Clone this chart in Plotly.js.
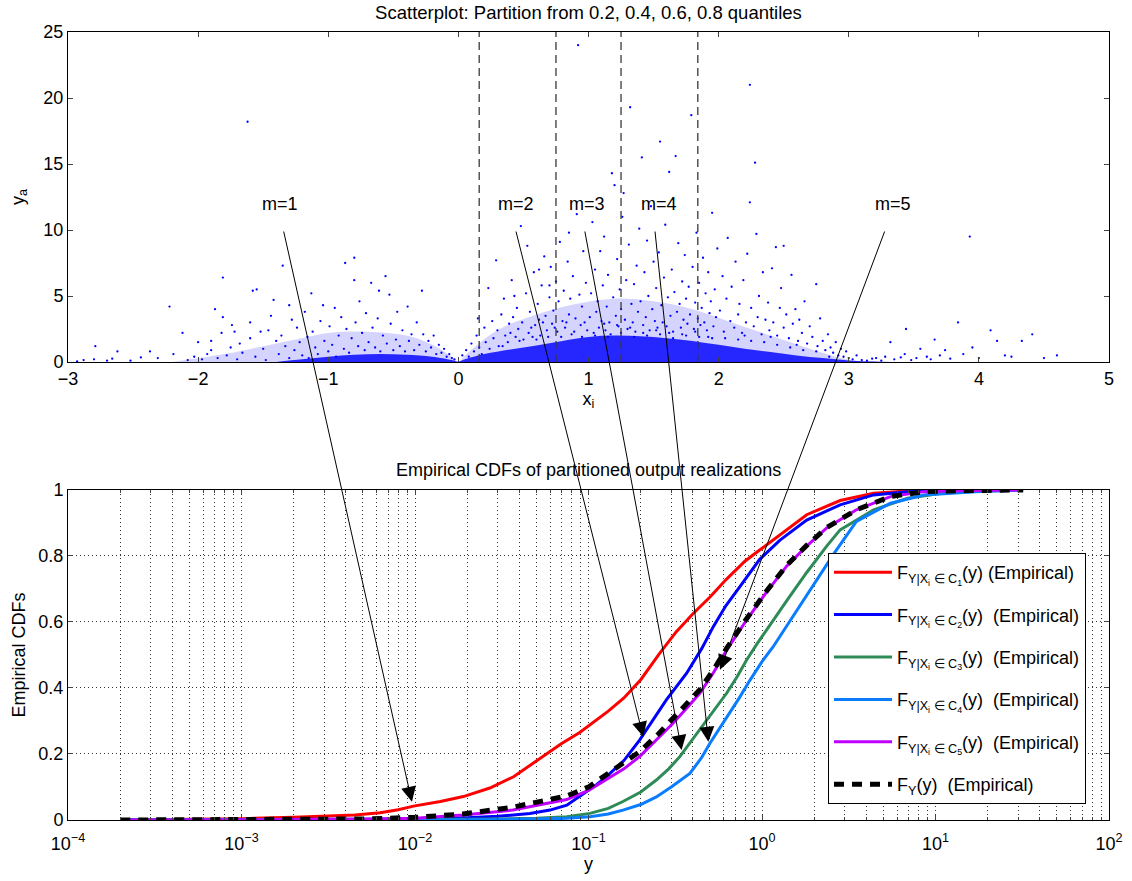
<!DOCTYPE html>
<html>
<head>
<meta charset="utf-8">
<script src="https://cdn.plot.ly/plotly-3.0.1.min.js"></script>
<style>html,body{margin:0;padding:0;background:#fff;}</style>
</head>
<body>
<div id="chart" style="width:1132px;height:881px;"></div>
<script>
// ---------------- DATA ----------------
// Quantile partition boundaries of x_i (0.2, 0.4, 0.6, 0.8)
const quantileX = [0.16, 0.75, 1.25, 1.84];

// Dense core of the scatter (upper envelope of the solid blue band)
const denseX   = [-1.4, -1.2, -1.0, -0.8, -0.6, -0.4, -0.2, -0.05, 0, 0.05, 0.2, 0.4, 0.6, 0.8, 1.0, 1.2, 1.4, 1.6, 1.8, 2.0, 2.2, 2.4, 2.6, 2.8, 3.0, 3.2, 3.4];
const denseTop = [0, 0.2, 0.4, 0.55, 0.6, 0.55, 0.4, 0.15, 0.02, 0.2, 0.6, 0.95, 1.25, 1.6, 1.9, 2.0, 1.95, 1.8, 1.6, 1.3, 1.0, 0.75, 0.5, 0.3, 0.12, 0.04, 0];
// Medium-density halo of the scatter (upper envelope of the speckled region)
const haloX   = [-2.2, -1.8, -1.5, -1.2, -1.0, -0.7, -0.4, -0.2, -0.05, 0, 0.05, 0.3, 0.6, 0.9, 1.2, 1.5, 1.8, 2.1, 2.4, 2.7, 2.9, 3.05, 3.2];
const haloTop = [0, 0.6, 1.2, 1.8, 2.2, 2.3, 2.0, 1.3, 0.4, 0.05, 0.5, 2.4, 3.6, 4.4, 4.8, 4.6, 4.0, 3.0, 2.0, 1.0, 0.4, 0.1, 0];

// Individual scatter points (x_i, y_a)
const ptsA = [[-2.93,0.05],[-2.88,0.15],[-2.8,0.2],[-2.79,1.2],[-2.7,0.1],[-2.66,0.25],[-2.62,0.8],[-2.52,0.1],[-2.44,0.35],[-2.37,0.8],[-2.31,0.3],[-2.22,4.2],[-2.19,0.6],[-2.12,2.2],[-2.08,0.15],[-2.03,0.4],[-2.0,1.5]];
const ptsB = [[-1.97,0.2],[-1.93,0.6],[-1.9,1.6],[-1.9,0.9],[-1.87,4.0],[-1.85,0.3],[-1.82,2.2],[-1.81,3.4],[-1.81,6.4],[-1.78,0.5],[-1.75,1.1],[-1.74,2.8],[-1.72,2.3],[-1.7,0.2],[-1.68,1.4],[-1.66,0.7],[-1.62,18.2],[-1.6,3.0],[-1.6,1.8],[-1.58,5.4],[-1.56,0.4],[-1.55,5.5],[-1.52,2.3],[-1.5,1.0],[-1.48,0.15],[-1.46,2.4],[-1.44,3.5],[-1.42,4.7],[-1.4,1.6],[-1.38,0.6],[-1.36,2.0],[-1.35,7.3],[-1.33,1.2],[-1.3,4.3],[-1.3,0.3],[-1.28,3.2],[-1.26,0.9],[-1.24,2.6],[-1.22,1.5],[-1.2,0.5]];
const ptsC = [[-1.18,3.8],[-1.16,1.9],[-1.15,0.3],[-1.13,5.2],[-1.12,2.3],[-1.1,1.1],[-1.08,0.6],[-1.06,3.1],[-1.04,4.3],[-1.03,1.6],[-1.0,0.8],[-0.99,2.7],[-0.97,1.3],[-0.95,4.1],[-0.94,0.4],[-0.92,2.0],[-0.9,3.4],[-0.88,1.0],[-0.87,7.5],[-0.86,2.5],[-0.84,0.7],[-0.82,1.8],[-0.8,7.9],[-0.8,6.2],[-0.79,3.0],[-0.77,1.2],[-0.76,4.6],[-0.74,2.2],[-0.72,0.9],[-0.71,3.7],[-0.69,1.5],[-0.67,6.0],[-0.66,2.6],[-0.64,1.1],[-0.62,3.3],[-0.61,5.4],[-0.6,0.8],[-0.58,2.0],[-0.56,6.5],[-0.55,1.4],[-0.53,5.1],[-0.52,2.9],[-0.5,0.9],[-0.48,1.7],[-0.47,3.8],[-0.45,1.2],[-0.43,2.4],[-0.41,0.8],[-0.39,4.2],[-0.38,1.6],[-0.36,2.1],[-0.34,0.9],[-0.32,3.0],[-0.3,1.3],[-0.28,5.4],[-0.27,2.1],[-0.25,0.8],[-0.23,1.6],[-0.21,1.1],[-0.19,2.0],[-0.17,0.6],[-0.15,1.3],[-0.13,0.7],[-0.11,1.0],[-0.09,0.4],[-0.07,0.6],[-0.05,0.3],[-0.03,0.2]];
const ptsD = [[0.03,0.5],[0.06,0.9],[0.08,0.4],[0.1,1.4],[0.12,0.8],[0.14,2.0],[0.16,1.1],[0.18,0.6],[0.2,2.6],[0.21,1.5],[0.23,5.6],[0.24,1.0],[0.26,3.1],[0.27,1.8],[0.29,7.7],[0.3,2.4],[0.31,1.2],[0.33,3.6],[0.35,4.8],[0.36,2.0],[0.38,1.5],[0.39,2.9],[0.41,6.2],[0.42,3.4],[0.44,1.9],[0.45,4.1],[0.46,2.5],[0.48,10.3],[0.49,3.0],[0.5,1.7],[0.52,5.2],[0.53,8.8],[0.54,2.2],[0.55,3.8],[0.57,1.9],[0.58,6.8],[0.59,2.8],[0.61,4.4],[0.62,3.2],[0.63,2.0],[0.64,5.8],[0.66,8.0],[0.67,3.5],[0.68,2.4],[0.7,4.9],[0.71,7.2],[0.72,2.9],[0.73,3.9],[0.75,6.1],[0.76,2.3],[0.77,4.6],[0.78,9.1],[0.8,3.1],[0.81,5.4],[0.82,2.6],[0.84,7.6],[0.85,3.6],[0.86,4.8],[0.87,2.1],[0.88,6.5],[0.9,3.3],[0.91,11.2],[0.92,24.0],[0.93,5.1],[0.94,2.8],[0.95,4.2],[0.96,8.4],[0.97,3.0],[0.98,6.0],[0.99,2.4],[0.15,3.3],[0.34,1.2],[0.4,2.2],[0.47,1.6],[0.56,2.6],[0.6,1.7],[0.65,3.0],[0.69,1.9],[0.74,2.6],[0.79,1.9],[0.83,3.0],[0.89,2.3],[0.95,1.9],[0.43,5.0],[0.62,7.0],[0.7,5.8],[0.85,9.8]];
const ptsE = [[1.01,3.4],[1.02,5.2],[1.03,10.6],[1.04,2.2],[1.05,7.0],[1.06,3.8],[1.07,4.6],[1.08,2.6],[1.09,8.4],[1.1,3.1],[1.11,5.8],[1.12,9.5],[1.13,2.4],[1.14,4.2],[1.15,6.6],[1.16,3.0],[1.17,2.1],[1.18,14.3],[1.19,4.9],[1.2,13.4],[1.21,3.5],[1.22,7.8],[1.23,2.7],[1.24,5.5],[1.25,4.0],[1.26,11.0],[1.27,12.8],[1.28,3.2],[1.29,6.2],[1.3,2.5],[1.31,8.9],[1.32,19.3],[1.33,4.4],[1.34,3.0],[1.35,5.9],[1.36,2.3],[1.37,7.3],[1.38,3.8],[1.39,10.1],[1.4,4.6],[1.41,15.5],[1.42,2.8],[1.43,6.8],[1.44,3.4],[1.45,9.2],[1.46,5.0],[1.47,2.4],[1.48,11.8],[1.49,4.0],[1.5,7.6],[1.51,3.1],[1.52,5.6],[1.53,2.6],[1.54,8.3],[1.55,16.7],[1.56,4.3],[1.57,3.0],[1.58,6.4],[1.59,10.4],[1.6,2.7],[1.61,4.9],[1.62,14.4],[1.63,3.5],[1.64,7.0],[1.65,2.3],[1.66,5.3],[1.67,15.6],[1.68,3.8],[1.69,9.0],[1.7,4.4],[1.71,2.6],[1.72,6.1],[1.73,3.2],[1.74,8.1],[1.75,4.8],[1.76,2.9],[1.77,5.7],[1.78,3.6],[1.79,18.7],[1.8,7.2],[1.81,2.5],[1.82,4.5],[1.83,9.8],[1.84,3.3],[1.85,6.0],[1.86,2.8],[1.87,4.1],[1.88,7.9],[1.89,3.0],[1.9,5.2],[1.91,2.4],[1.92,6.8],[1.93,3.7],[1.94,4.6],[1.95,11.3],[1.96,2.7],[1.97,5.5],[1.98,3.4],[1.99,8.6],[1.05,2.0],[1.15,1.9],[1.25,2.2],[1.35,1.9],[1.45,2.0],[1.55,2.1],[1.65,1.8],[1.75,2.0],[1.85,1.9],[1.95,1.8],[1.12,2.9],[1.22,2.8],[1.32,2.6],[1.42,2.2],[1.52,2.4],[1.62,2.2],[1.72,2.1],[1.82,2.3],[1.92,1.9]];
const ptsF = [[2.01,3.9],[2.03,6.5],[2.04,2.3],[2.06,4.8],[2.07,9.4],[2.09,3.1],[2.1,5.7],[2.12,2.6],[2.13,7.6],[2.15,3.6],[2.16,4.4],[2.18,2.2],[2.19,6.2],[2.21,3.0],[2.22,8.2],[2.24,21.0],[2.24,12.1],[2.25,4.1],[2.27,2.7],[2.28,15.1],[2.29,9.7],[2.3,3.4],[2.31,5.0],[2.33,2.1],[2.34,6.8],[2.36,3.2],[2.38,4.5],[2.39,2.4],[2.41,7.1],[2.42,3.0],[2.44,8.7],[2.45,2.0],[2.47,4.1],[2.48,5.6],[2.5,8.8],[2.5,2.6],[2.52,3.6],[2.54,1.8],[2.56,6.6],[2.57,2.9],[2.59,4.0],[2.61,1.6],[2.62,3.2],[2.64,2.2],[2.66,4.6],[2.68,1.4],[2.7,2.7],[2.72,1.9],[2.75,5.9],[2.76,1.2],[2.78,3.3],[2.8,1.6],[2.82,0.9],[2.84,2.1],[2.86,1.1],[2.88,0.7],[2.9,1.5],[2.92,0.5],[2.94,1.0],[2.96,0.4],[2.98,0.8],[3.0,0.3],[2.05,1.8],[2.15,1.7],[2.25,1.6],[2.35,1.5],[2.45,1.3],[2.55,1.1],[2.65,0.9],[2.75,0.8],[2.2,2.0],[2.4,1.9],[2.6,1.3],[2.85,0.4]];
const ptsG = [[3.03,0.2],[3.06,0.5],[3.1,0.15],[3.14,0.1],[3.18,0.25],[3.21,0.3],[3.25,0.1],[3.28,0.4],[3.32,1.5],[3.35,0.2],[3.4,0.35],[3.43,0.6],[3.44,2.5],[3.48,0.15],[3.52,0.3],[3.55,1.0],[3.6,0.4],[3.63,0.2],[3.66,1.7],[3.7,0.5],[3.74,0.9],[3.78,0.25],[3.84,3.0],[3.88,0.6],[3.93,9.5],[3.95,1.1],[4.0,0.3],[4.09,2.4],[4.14,1.6],[4.2,0.5],[4.25,0.4],[4.33,1.6],[4.41,2.1],[4.5,0.3],[4.6,0.5]];

// Empirical CDFs (y values and cumulative probability)
const c1Y = [2e-4, 5e-4, 1e-3, 2e-3, 3e-3, 4.5e-3, 6.3e-3, 8e-3, 9.8e-3, 0.014, 0.019, 0.027, 0.037, 0.046, 0.057, 0.07, 0.089, 0.11, 0.13, 0.16, 0.2, 0.257, 0.32, 0.4, 0.5, 0.625, 0.8, 0.97, 1.27, 1.81, 2.82, 4.4, 6.9, 10, 20];
const c1F = [0, 0.002, 0.004, 0.008, 0.011, 0.015, 0.022, 0.031, 0.042, 0.056, 0.071, 0.097, 0.131, 0.165, 0.2, 0.232, 0.265, 0.3, 0.33, 0.37, 0.425, 0.505, 0.57, 0.625, 0.675, 0.73, 0.785, 0.818, 0.865, 0.925, 0.968, 0.99, 0.997, 0.999, 1.0];

const c2Y = [2e-4, 1e-3, 5e-3, 0.01, 0.02, 0.03, 0.046, 0.06, 0.075, 0.093, 0.11, 0.126, 0.16, 0.197, 0.24, 0.281, 0.367, 0.45, 0.524, 0.62, 0.746, 0.97, 1.27, 1.81, 2.82, 4.4, 6.9, 12, 20];
const c2F = [0, 0.0005, 0.001, 0.003, 0.007, 0.011, 0.02, 0.03, 0.045, 0.08, 0.105, 0.13, 0.18, 0.242, 0.31, 0.364, 0.444, 0.52, 0.586, 0.65, 0.707, 0.79, 0.848, 0.909, 0.955, 0.985, 0.995, 0.999, 1.0];

const c3Y = [2e-4, 5e-3, 0.02, 0.05, 0.075, 0.102, 0.13, 0.158, 0.2, 0.246, 0.29, 0.336, 0.4, 0.479, 0.55, 0.625, 0.72, 0.815, 0.94, 1.06, 1.27, 1.39, 1.81, 2.36, 2.82, 4.4, 6.9, 10.8, 20, 30];
const c3F = [0, 0.0005, 0.002, 0.005, 0.01, 0.02, 0.035, 0.056, 0.085, 0.121, 0.155, 0.192, 0.245, 0.303, 0.345, 0.384, 0.435, 0.485, 0.535, 0.576, 0.635, 0.665, 0.75, 0.83, 0.879, 0.94, 0.975, 0.99, 0.998, 1.0];

const c4Y = [2e-4, 5e-3, 0.02, 0.05, 0.075, 0.102, 0.13, 0.158, 0.2, 0.246, 0.3, 0.384, 0.45, 0.5, 0.575, 0.653, 0.74, 0.853, 1.0, 1.16, 1.52, 1.98, 2.58, 3.5, 5.5, 8.6, 16.9, 32];
const c4F = [0, 0.0003, 0.001, 0.003, 0.005, 0.01, 0.018, 0.03, 0.047, 0.07, 0.1, 0.141, 0.19, 0.232, 0.28, 0.323, 0.37, 0.424, 0.48, 0.525, 0.62, 0.71, 0.805, 0.905, 0.96, 0.985, 0.995, 1.0];

const c5Y = [2e-4, 1e-3, 5e-3, 0.01, 0.0189, 0.0367, 0.052, 0.0748, 0.1, 0.126, 0.16, 0.197, 0.25, 0.307, 0.37, 0.438, 0.53, 0.625, 0.815, 1.06, 1.39, 1.81, 2.36, 3.5, 5.5, 8.6, 13.5, 32];
const c5F = [0, 0.0005, 0.002, 0.005, 0.015, 0.03, 0.045, 0.062, 0.09, 0.121, 0.155, 0.192, 0.245, 0.293, 0.34, 0.384, 0.45, 0.515, 0.606, 0.69, 0.77, 0.83, 0.885, 0.94, 0.98, 0.995, 0.998, 1.0];

const allY = [2e-4, 1e-3, 5e-3, 0.01, 0.0189, 0.0367, 0.052, 0.0748, 0.1, 0.126, 0.16, 0.197, 0.25, 0.307, 0.37, 0.438, 0.53, 0.625, 0.815, 1.06, 1.39, 1.81, 2.36, 3.5, 5.5, 8.6, 13.5, 32];
const allF = [0, 0.001, 0.003, 0.008, 0.018, 0.039, 0.056, 0.073, 0.1, 0.136, 0.17, 0.207, 0.258, 0.308, 0.352, 0.395, 0.458, 0.52, 0.61, 0.693, 0.772, 0.832, 0.886, 0.94, 0.98, 0.995, 0.998, 1.0];

// Annotation arrows: from partition label (top plot) to its CDF (bottom plot)
const mLabels = ['m=1', 'm=2', 'm=3', 'm=4', 'm=5'];
const mLabelX = [-1.37, 0.445, 0.99, 1.54, 3.34];
const mStartX = [-1.345, 0.44, 0.97, 1.51, 3.28];
const mTipY   = [0.0096, 0.207, 0.344, 0.491, 0.573];
const mTipF   = [0.055, 0.252, 0.212, 0.237, 0.455];

const decadeVals = [1e-4, 1e-3, 1e-2, 1e-1, 1, 10, 100];
const decadeText = ['10<sup>\u22124</sup>', '10<sup>\u22123</sup>', '10<sup>\u22122</sup>', '10<sup>\u22121</sup>', '10<sup>0</sup>', '10<sup>1</sup>', '10<sup>2</sup>'];

// ---------------- PLOT ----------------
const FONT = 'Liberation Sans, Arial, Helvetica, sans-serif';
const W = 1132, H = 881, ML = 68, MR = 23, MT = 32, MB = 61;
const plotW = W - ML - MR, plotH = H - MT - MB;
const topDom = [0.5812, 1], botDom = [0, 0.4188];
const topPxTop = MT, topPxH = (topDom[1] - topDom[0]) * plotH;
const botPxTop = MT + (1 - botDom[1]) * plotH, botPxH = (botDom[1] - botDom[0]) * plotH;

const allPts = [].concat(ptsA, ptsB, ptsC, ptsD, ptsE, ptsF, ptsG);

const traces = [];
traces.push({
  x: haloX, y: haloTop, xaxis: 'x', yaxis: 'y', mode: 'lines', type: 'scatter',
  line: {width: 0, shape: 'spline', color: 'rgba(0,0,255,0)'}, fill: 'tozeroy', fillcolor: 'rgba(40,40,255,0.2)',
  showlegend: false, hoverinfo: 'skip'
});
traces.push({
  x: denseX, y: denseTop, xaxis: 'x', yaxis: 'y', mode: 'lines', type: 'scatter',
  line: {width: 0, shape: 'spline', color: 'rgba(0,0,255,0)'}, fill: 'tozeroy', fillcolor: 'rgba(0,0,255,0.82)',
  showlegend: false, hoverinfo: 'skip'
});
traces.push({
  x: allPts.map(p => p[0]), y: allPts.map(p => p[1]), xaxis: 'x', yaxis: 'y',
  mode: 'markers', type: 'scatter', marker: {color: '#0000ff', size: 2.3, line: {width: 0}},
  showlegend: false, hoverinfo: 'skip'
});
quantileX.forEach(q => traces.push({
  x: [q, q], y: [0, 25], xaxis: 'x', yaxis: 'y', mode: 'lines', type: 'scatter',
  line: {color: '#3a3a3a', width: 1.3, dash: '8px,5px'}, showlegend: false, hoverinfo: 'skip'
}));

const sub = (k) => 'F<sub>Y|X<sub>i</sub> \u2208 C<sub>' + k + '</sub></sub>(y)';
const series = [
  {x: c1Y, y: c1F, name: sub(1) + ' (Empirical)', color: '#ff0000'},
  {x: c2Y, y: c2F, name: sub(2) + '\u00a0 (Empirical)', color: '#0000ff'},
  {x: c3Y, y: c3F, name: sub(3) + '\u00a0 (Empirical)', color: '#2e8b57'},
  {x: c4Y, y: c4F, name: sub(4) + '\u00a0 (Empirical)', color: '#0a7cff'},
  {x: c5Y, y: c5F, name: sub(5) + '\u00a0 (Empirical)', color: '#c000ff'}
];
series.forEach((s, i) => traces.push({
  x: s.x, y: s.y, xaxis: 'x2', yaxis: 'y2', mode: 'lines', type: 'scatter', name: s.name,
  legendgroup: 'g' + i, line: {color: s.color, width: 3}, hoverinfo: 'skip'
}));
traces.push({
  x: allY, y: allF, xaxis: 'x2', yaxis: 'y2', mode: 'lines', type: 'scatter',
  name: 'F<sub>Y</sub>(y)\u00a0 (Empirical)', legendgroup: 'g5',
  line: {color: '#000000', width: 5, dash: '10px,8px'}, hoverinfo: 'skip'
});

// minor ticks 2..9 within each decade (axis configuration)
const minorVals = [];
for (let e = -4; e < 2; e++) for (let m = 2; m <= 9; m++) minorVals.push(m * Math.pow(10, e));

const annotations = [];
mLabels.forEach((t, i) => {
  annotations.push({xref: 'x', yref: 'y', x: mLabelX[i], y: 12, text: t, showarrow: false,
    font: {family: FONT, size: 18, color: '#000'}, xanchor: 'center', yanchor: 'middle'});
  const sx = ML + (mStartX[i] + 3) / 8 * plotW;
  const sy = topPxTop + (25 - 10) / 25 * topPxH;
  const tx = ML + (Math.log10(mTipY[i]) + 4) / 6 * plotW;
  const ty = botPxTop + (1 - mTipF[i]) * botPxH;
  annotations.push({xref: 'x2', yref: 'y2', x: Math.log10(mTipY[i]), y: mTipF[i], text: '',
    showarrow: true, arrowhead: 2, arrowsize: 3, arrowwidth: 1, arrowcolor: '#000',
    axref: 'pixel', ayref: 'pixel', ax: sx - tx, ay: sy - ty, standoff: 0});
});
annotations.push({xref: 'paper', yref: 'paper', x: 0.5, y: (H - MB - 470) / plotH, text: 'Empirical CDFs of partitioned output realizations',
  showarrow: false, font: {family: FONT, size: 18, color: '#000'}, xanchor: 'center', yanchor: 'middle'});

const axisCommon = {
  showline: true, linecolor: '#000', linewidth: 1, mirror: 'ticks', ticks: 'inside', ticklen: 5,
  tickcolor: '#444', zeroline: false, tickfont: {family: FONT, size: 18, color: '#000'}
};

const layout = {
  width: W, height: H, paper_bgcolor: '#fff', plot_bgcolor: '#fff',
  margin: {l: ML, r: MR, t: MT, b: MB, pad: 0},
  font: {family: FONT, color: '#000'},
  title: {text: 'Scatterplot: Partition from 0.2, 0.4, 0.6, 0.8 quantiles', font: {family: FONT, size: 18.5, color: '#000'},
    x: 0.5, xref: 'paper', y: 1 - 13 / H, yref: 'container', yanchor: 'middle'},
  showlegend: true,
  legend: {x: (828 - ML) / plotW, y: (H - MB - 553) / plotH, xanchor: 'left', yanchor: 'top',
    bordercolor: '#000', borderwidth: 1, bgcolor: '#fff', font: {family: FONT, size: 18, color: '#000'},
    tracegroupgap: 16, itemwidth: 58},
  xaxis: Object.assign({}, axisCommon, {domain: [0, 1], anchor: 'y', range: [-3, 5], dtick: 1, tick0: 0, showgrid: false,
    title: {text: 'x<sub>i</sub>', font: {family: FONT, size: 18}, standoff: 4}}),
  yaxis: Object.assign({}, axisCommon, {domain: topDom, anchor: 'x', range: [0, 25], dtick: 5, showgrid: false,
    title: {text: 'y<sub>a</sub>', font: {family: FONT, size: 18}, standoff: 14}}),
  xaxis2: Object.assign({}, axisCommon, {domain: [0, 1], anchor: 'y2', type: 'log', range: [-4, 2],
    tickmode: 'array', tickvals: decadeVals, ticktext: decadeText, ticklabelstandoff: 7,
    showgrid: true, gridcolor: '#333', griddash: '1px,3px', gridwidth: 1,
    minor: {tickmode: 'array', tickvals: minorVals, ticks: 'inside', ticklen: 3, tickcolor: '#444',
      showgrid: true, gridcolor: '#333', griddash: '1px,3px', gridwidth: 1},
    title: {text: 'y', font: {family: FONT, size: 18}, standoff: 2}}),
  yaxis2: Object.assign({}, axisCommon, {domain: botDom, anchor: 'x2', range: [0, 1], dtick: 0.2,
    showgrid: true, gridcolor: '#333', griddash: '1px,3px', gridwidth: 1,
    title: {text: 'Empirical CDFs', font: {family: FONT, size: 18}, standoff: 8}}),
  annotations: annotations,
  hovermode: false
};

Plotly.newPlot('chart', traces, layout, {displayModeBar: false, staticPlot: true});
</script>
</body>
</html>
